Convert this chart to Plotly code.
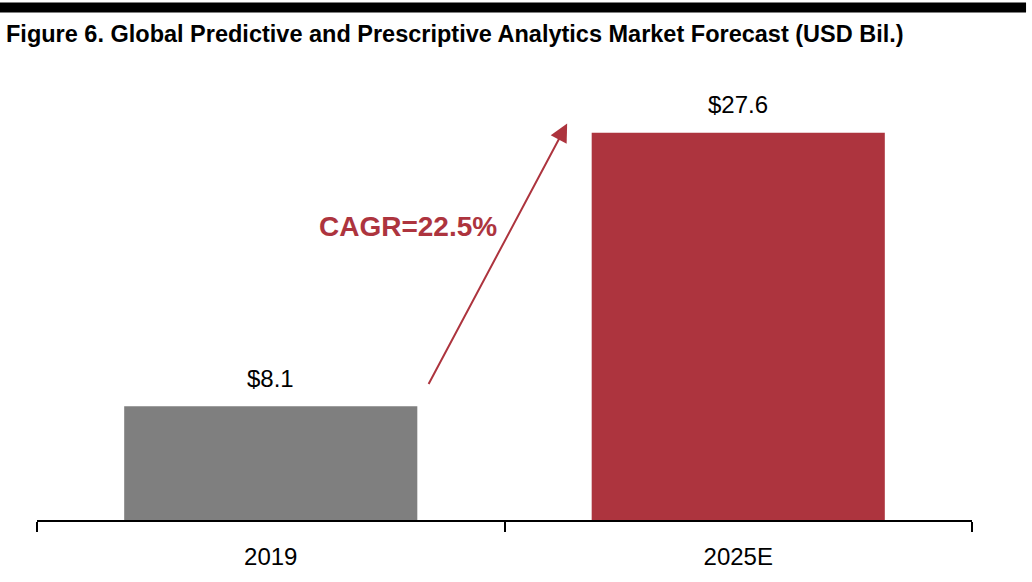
import plotly.graph_objects as go

categories = ["2019", "2025E"]
values = [8.1, 27.6]
value_labels = ["$8.1", "$27.6"]
bar_colors = ["#7F7F7F", "#AD343E"]
cagr_text = "CAGR=22.5%"
title_text = "Figure 6. Global Predictive and Prescriptive Analytics Market Forecast (USD Bil.)"

FONT = "Liberation Sans, Arial, sans-serif"

fig = go.Figure()
fig.add_trace(go.Bar(
    x=categories, y=values,
    marker=dict(color=bar_colors, line=dict(width=0)),
    cliponaxis=False, hoverinfo="skip",
))

for i, (v, t) in enumerate(zip(values, value_labels)):
    fig.add_annotation(x=i, y=v, xref="x", yref="y", text=t, showarrow=False,
                       yanchor="middle", yshift=28,
                       font=dict(family=FONT, size=24, color="#000000"))

# CAGR arrow
fig.add_annotation(
    x=0.634, y=28.25, ax=0.336, ay=9.58,
    xref="x", yref="y", axref="x", ayref="y",
    showarrow=True, arrowhead=2, arrowsize=1.8, arrowwidth=2,
    arrowcolor="#AD343E", text="",
)
fig.add_annotation(
    x=0.293, y=20.9, xref="x", yref="y",
    text="<b>" + cagr_text + "</b>", showarrow=False,
    font=dict(family=FONT, size=28, color="#AD343E"),
)

# top black band
fig.add_shape(type="rect", xref="paper", yref="paper",
              x0=-0.0396, x1=1.0578, y0=1.2057, y1=1.2293,
              fillcolor="#000000", line=dict(width=0))

fig.update_layout(
    width=1032, height=582,
    margin=dict(l=37, r=60, t=99, b=60),
    paper_bgcolor="#FFFFFF", plot_bgcolor="#FFFFFF",
    bargap=0.373,
    showlegend=False,
    title=dict(text="<b>" + title_text + "</b>", xref="container", yref="container",
               x=6/1032, xanchor="left", y=1-34/582, yanchor="middle",
               font=dict(family=FONT, size=23.5, color="#000000")),
    xaxis=dict(type="category", showline=True, linecolor="#000000", linewidth=2,
               ticks="outside", tickson="boundaries", ticklen=10, tickwidth=2, tickcolor="#000000",
               ticklabelstandoff=14,
               tickfont=dict(family=FONT, size=24, color="#000000"),
               showgrid=False, zeroline=False),
    yaxis=dict(range=[0, 30], visible=False, showgrid=False, zeroline=False),
)

fig.write_html("out.html", config={"displayModeBar": False},
               post_script="document.body.style.margin='0';")
